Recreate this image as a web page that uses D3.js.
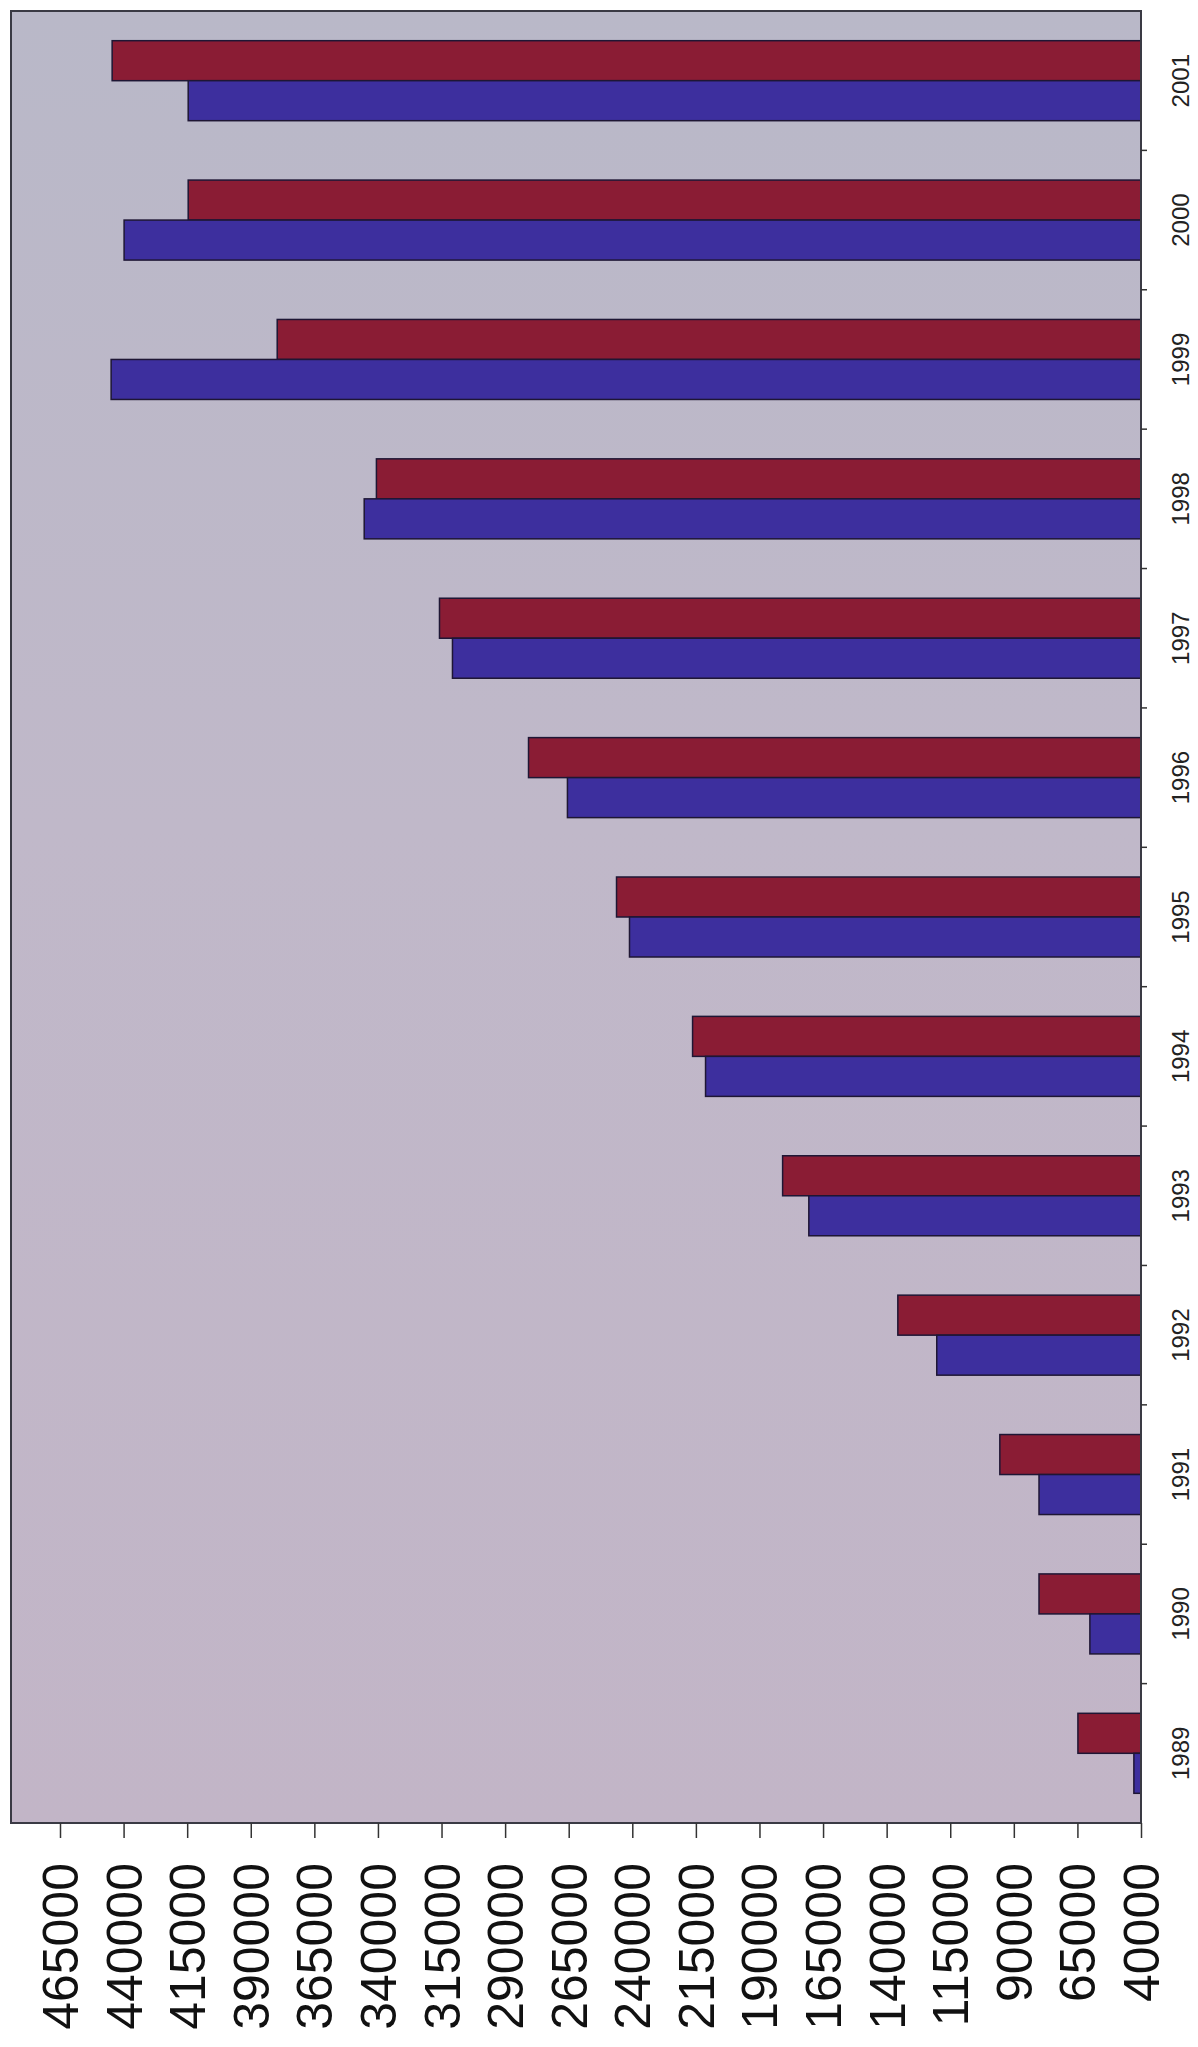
<!DOCTYPE html>
<html>
<head>
<meta charset="utf-8">
<script src="https://cdn.jsdelivr.net/npm/d3@7"></script>
<style>
  body { margin: 0; background: #fff; }
  svg { display: block; font-family: "Liberation Sans", Arial, Helvetica, sans-serif; }
</style>
</head>
<body>
<svg id="chart" width="1198" height="2047"></svg>
<script>
// chart data
const years = [1989, 1990, 1991, 1992, 1993, 1994, 1995, 1996, 1997, 1998, 1999, 2000, 2001]
const blueValues = [42800, 60100, 80100, 120300, 170600, 211200, 241100, 265500, 310700, 345400, 444900, 439800, 414600]
const redValues = [64800, 80100, 95500, 135600, 180900, 216300, 246200, 280800, 315800, 340600, 379600, 414600, 444500]
const valueTicks = [40000, 65000, 90000, 115000, 140000, 165000, 190000, 215000, 240000, 265000,
                    290000, 315000, 340000, 365000, 390000, 415000, 440000, 465000]

const series = [
    { key: 'red', values: redValues, fill: '#8a1c34' },
    { key: 'blue', values: blueValues, fill: '#3d2f9e' }
]

// plot frame (page coordinates)
const plotLeft = 11, plotTop = 11, plotRight = 1141, plotBottom = 1823

const svg = d3.select('#chart')

const defs = svg.append('defs')
const grad = defs.append('linearGradient')
    .attr('id', 'bg')
    .attr('x1', 0).attr('y1', 0).attr('x2', 0).attr('y2', 1)
grad.append('stop').attr('offset', '0%').attr('stop-color', '#b9b8c8')
grad.append('stop').attr('offset', '45%').attr('stop-color', '#c0b8c9')
grad.append('stop').attr('offset', '100%').attr('stop-color', '#c2b5c7')

// value scale runs right -> left (the chart is a column chart turned on its side)
const x = d3.scaleLinear()
    .domain([40000, 465000])
    .range([plotRight, 60])

const y = d3.scaleBand()
    .domain(years.slice().reverse())
    .range([plotTop, plotBottom])
    .padding(0)

const step = y.step()
const pairHeight = 80
const ySeries = d3.scaleBand()
    .domain(series.map(s => s.key))
    .range([step / 2 - pairHeight / 2, step / 2 + pairHeight / 2])

svg.append('rect')
    .attr('x', plotLeft)
    .attr('y', plotTop)
    .attr('width', plotRight - plotLeft)
    .attr('height', plotBottom - plotTop)
    .attr('fill', 'url(#bg)')

// bars
const groups = svg.append('g')
    .selectAll('g')
    .data(years)
    .join('g')
    .attr('transform', d => `translate(0,${y(d)})`)

groups.selectAll('rect')
    .data((d, i) => series.map(s => ({ key: s.key, fill: s.fill, value: s.values[i] })))
    .join('rect')
    .attr('x', d => x(d.value))
    .attr('y', d => ySeries(d.key))
    .attr('width', d => x(40000) - x(d.value))
    .attr('height', ySeries.bandwidth())
    .attr('fill', d => d.fill)
    .attr('stroke', '#1e1634')
    .attr('stroke-width', 1.5)

// frame
svg.append('rect')
    .attr('x', plotLeft)
    .attr('y', plotTop)
    .attr('width', plotRight - plotLeft)
    .attr('height', plotBottom - plotTop)
    .attr('fill', 'none')
    .attr('stroke', '#3a3a44')
    .attr('stroke-width', 2)

// value axis along the bottom, labels read bottom to top
const valueAxis = svg.append('g')
    .attr('transform', `translate(0,${plotBottom})`)
    .call(d3.axisBottom(x)
        .tickValues(valueTicks)
        .tickSize(15)
        .tickSizeOuter(0)
        .tickFormat(d3.format('d')))

valueAxis.select('.domain').remove()
valueAxis.selectAll('.tick line')
    .attr('stroke', '#333')
    .attr('stroke-width', 1.5)
valueAxis.selectAll('.tick text')
    .attr('transform', 'rotate(-90)')
    .attr('x', -40)
    .attr('y', 0)
    .attr('dy', '0.35em')
    .style('text-anchor', 'end')
    .style('font-size', '50px')
    .attr('fill', '#111')

// category axis on the right, ticks between the years
const catAxis = svg.append('g')

catAxis.selectAll('line')
    .data(years.slice(1))
    .join('line')
    .attr('x1', plotRight)
    .attr('x2', plotRight + 6)
    .attr('y1', d => y(d) + step)
    .attr('y2', d => y(d) + step)
    .attr('stroke', '#333')
    .attr('stroke-width', 1.5)

catAxis.selectAll('text')
    .data(years)
    .join('text')
    .attr('transform', d => `translate(1181,${y(d) + step / 2}) rotate(-90)`)
    .attr('dy', '0.35em')
    .style('text-anchor', 'middle')
    .style('font-size', '24px')
    .attr('fill', '#222')
    .text(d => d)
</script>
</body>
</html>
